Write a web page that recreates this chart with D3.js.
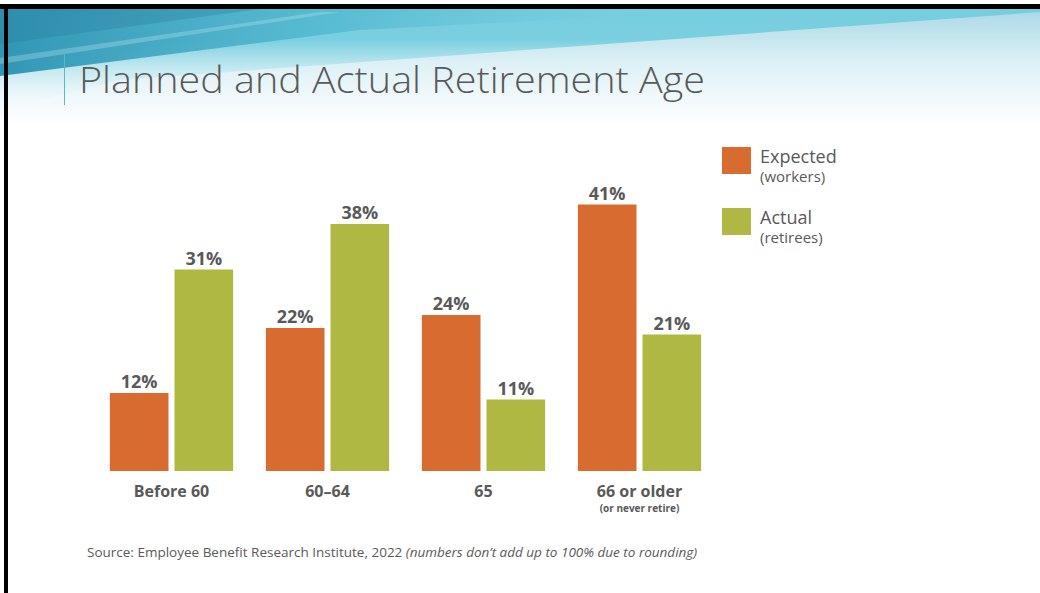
<!DOCTYPE html>
<meta charset="utf-8">
<style>
body { margin: 0; background: #fff; }
svg { display: block; font-family: "Open Sans", Lato, sans-serif; }
.val { font-size: 18px; font-weight: bold; fill: #595959; text-anchor: middle; }
.cat { font-size: 16px; font-weight: bold; fill: #595959; text-anchor: middle; }
.sub { font-size: 10px; font-weight: bold; fill: #595959; text-anchor: middle; }
</style>
<svg width="1040" height="593"></svg>
<script src="https://d3js.org/d3.v7.min.js"></script>
<script>

var categories = ["Before 60", "60\u201364", "65", "66 or older"],
    subLabels = ["", "", "", "(or never retire)"],
    expected = [12, 22, 24, 41],
    actual = [31, 38, 11, 21],
    seriesNames = ["Expected", "Actual"],
    seriesNotes = ["(workers)", "(retirees)"],
    colors = ["#d86b30", "#aeb843"];

var svg = d3.select("svg"),
    width = +svg.attr("width"),
    height = +svg.attr("height");

// header background swoosh
var defs = svg.append("defs");
var gv = defs.append("linearGradient").attr("id", "bgV")
    .attr("gradientUnits", "userSpaceOnUse").attr("x1", 0).attr("y1", 9).attr("x2", 0).attr("y2", 125);
gv.append("stop").attr("offset", 0).attr("stop-color", "#a9d9e6");
gv.append("stop").attr("offset", 0.45).attr("stop-color", "#dcf0f5");
gv.append("stop").attr("offset", 1).attr("stop-color", "#ffffff");

var gh = defs.append("linearGradient").attr("id", "bgH")
    .attr("gradientUnits", "userSpaceOnUse").attr("x1", 0).attr("y1", 0).attr("x2", 760).attr("y2", 0);
gh.append("stop").attr("offset", 0).attr("stop-color", "#3196b5").attr("stop-opacity", 1);
gh.append("stop").attr("offset", 0.45).attr("stop-color", "#52b9d0").attr("stop-opacity", 0.8);
gh.append("stop").attr("offset", 1).attr("stop-color", "#8fd6e6").attr("stop-opacity", 0);

var gl = defs.append("linearGradient").attr("id", "bgL")
    .attr("gradientUnits", "userSpaceOnUse").attr("x1", 0).attr("y1", 40).attr("x2", 0).attr("y2", 112);
gl.append("stop").attr("offset", 0).attr("stop-color", "#6ccbdd").attr("stop-opacity", 0.85);
gl.append("stop").attr("offset", 1).attr("stop-color", "#ffffff").attr("stop-opacity", 0);

svg.append("rect").attr("x", 0).attr("y", 9).attr("width", width).attr("height", 120).attr("fill", "url(#bgV)");
svg.append("path").attr("d", "M0,9 L0,110 L120,80 L1040,12 L1040,9 Z").attr("fill", "url(#bgL)");
svg.append("path").attr("d", "M0,9 L0,76 L360,30 L760,9 Z").attr("fill", "url(#bgH)");
svg.append("path").attr("d", "M0,9 L0,44 L260,9 Z").attr("fill", "#2a7f9f").attr("opacity", 0.35);
svg.append("path").attr("d", "M0,58 L0,64 L340,12 L320,12 Z").attr("fill", "#bfeaf3").attr("opacity", 0.3);

// frame
svg.append("rect").attr("x", 0).attr("y", 4).attr("width", width).attr("height", 5).attr("fill", "#000");
svg.append("rect").attr("x", 4).attr("y", 4).attr("width", 4).attr("height", height).attr("fill", "#000");

// title
svg.append("line").attr("x1", 64.5).attr("x2", 64.5).attr("y1", 52).attr("y2", 105)
    .attr("stroke", "#5ab6cf").attr("stroke-width", 1);
svg.append("text").attr("x", 79).attr("y", 93)
    .attr("textLength", 626).attr("lengthAdjust", "spacingAndGlyphs")
    .style("font-size", "37px").style("font-weight", 300).attr("fill", "#595959")
    .text("Planned and Actual Retirement Age");

// chart
var x0 = d3.scaleBand().domain(categories).range([93.5, 717.5]).paddingInner(0.21).paddingOuter(0.105);
var x1 = d3.scaleBand().domain(seriesNames).range([0, x0.bandwidth()]).paddingInner(0.093);
var y = d3.scaleLinear().domain([0, 50]).range([471, 146]);

var rows = categories.map(function(c, i) {
  return { cat: c, sub: subLabels[i], vals: [expected[i], actual[i]] };
});

var grp = svg.selectAll("g.grp").data(rows).enter().append("g")
    .attr("class", "grp")
    .attr("transform", function(d) { return "translate(" + x0(d.cat) + ",0)"; });

var bars = grp.selectAll("g.bar")
    .data(function(d) { return d.vals.map(function(v, j) { return { s: seriesNames[j], v: v, j: j }; }); })
    .enter().append("g").attr("class", "bar");

bars.append("rect")
    .attr("x", function(d) { return x1(d.s); })
    .attr("width", x1.bandwidth())
    .attr("y", function(d) { return y(d.v); })
    .attr("height", function(d) { return y(0) - y(d.v); })
    .attr("fill", function(d) { return colors[d.j]; });

bars.append("text").attr("class", "val")
    .attr("x", function(d) { return x1(d.s) + x1.bandwidth() / 2; })
    .attr("y", function(d) { return y(d.v) - 5; })
    .text(function(d) { return d.v + "%"; });

grp.append("text").attr("class", "cat")
    .attr("x", x0.bandwidth() / 2).attr("y", y(0) + 26)
    .text(function(d) { return d.cat; });

grp.append("text").attr("class", "sub")
    .attr("x", x0.bandwidth() / 2).attr("y", y(0) + 41)
    .text(function(d) { return d.sub; });

// legend
var leg = svg.selectAll("g.leg").data(seriesNames).enter().append("g")
    .attr("class", "leg")
    .attr("transform", function(d, i) { return "translate(722," + (147 + i * 61) + ")"; });
leg.append("rect").attr("width", 29).attr("height", 27).attr("fill", function(d, i) { return colors[i]; });
leg.append("text").attr("x", 38).attr("y", 16).attr("fill", "#595959")
    .style("font-size", "18px").text(function(d) { return d; });
leg.append("text").attr("x", 38).attr("y", 35).attr("fill", "#595959")
    .style("font-size", "15px").text(function(d, i) { return seriesNotes[i]; });

// source
var src = svg.append("text").attr("x", 87).attr("y", 557).attr("fill", "#595959").style("font-size", "13.5px");
src.append("tspan").text("Source:  Employee Benefit Research Institute, 2022 ");
src.append("tspan").style("font-style", "italic").text("(numbers don\u2019t add up to 100% due to rounding)");

</script>
